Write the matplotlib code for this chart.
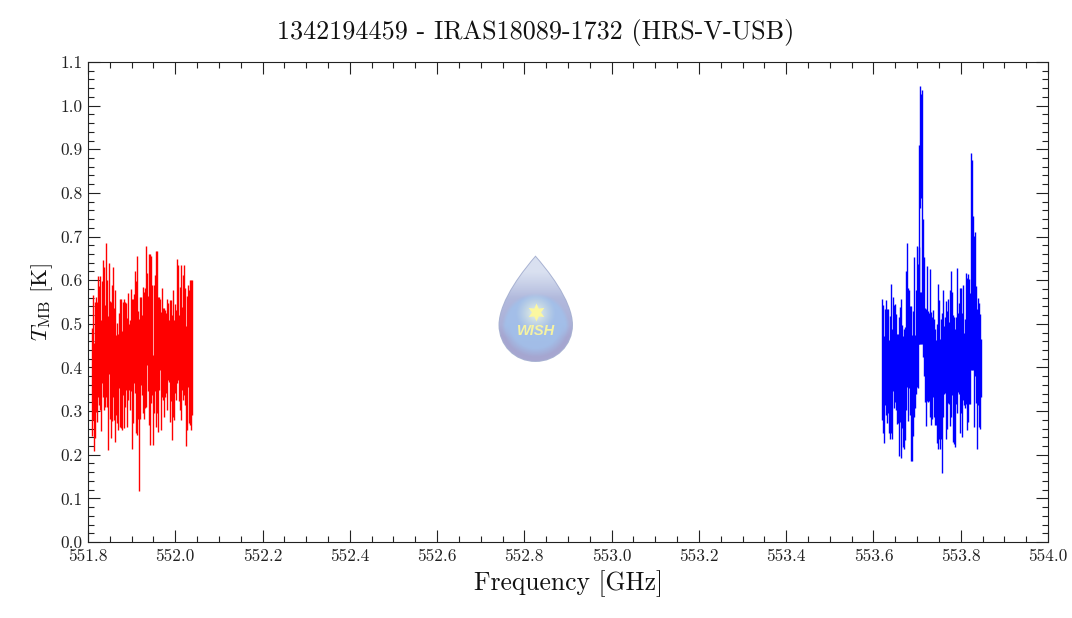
import numpy as np
import matplotlib
matplotlib.use("Agg")
import matplotlib.pyplot as plt
from matplotlib.path import Path
from matplotlib.patches import PathPatch
from matplotlib.ticker import MultipleLocator, FormatStrFormatter

# min / max of the spectrum in each plotted column
RED_START = 551.8103
BLUE_START = 553.6185
CHANNEL = 0.00229

red_hi = [
    .490, .566, .455, .549, .561, .551, .610, .587, .610, .509,
    .597, .646, .631, .543, .686, .600, .518, .639, .552, .549,
    .589, .631, .536, .578, .474, .501, .477, .524, .556, .556,
    .484, .551, .558, .551, .547, .514, .571, .500, .509, .580,
    .557, .557, .568, .620, .597, .655, .529, .512, .561, .561,
    .520, .585, .574, .581, .678, .616, .564, .660, .660, .655,
    .589, .429, .589, .612, .667, .667, .561, .561, .558, .528,
    .583, .536, .536, .532, .524, .558, .547, .509, .555, .555,
    .520, .578, .509, .545, .532, .648, .635, .520, .585, .635,
    .539, .612, .635, .581, .495, .564, .589, .578, .600, .600,
    .600,
]
red_lo = [
    .243, .280, .209, .238, .299, .274, .333, .314, .303, .255,
    .364, .333, .303, .310, .333, .310, .211, .385, .283, .238,
    .277, .333, .280, .230, .291, .272, .257, .352, .264, .261,
    .257, .337, .261, .310, .348, .264, .325, .348, .303, .345,
    .213, .272, .364, .341, .249, .245, .281, .118, .281, .360,
    .337, .295, .283, .306, .310, .406, .345, .268, .222, .318,
    .337, .222, .295, .345, .264, .295, .251, .348, .394, .257,
    .333, .325, .287, .333, .341, .303, .371, .367, .276, .322,
    .234, .287, .280, .341, .325, .364, .371, .322, .303, .280,
    .348, .325, .337, .314, .219, .257, .356, .272, .268, .257,
    .291,
]
blue_hi = [
    .557, .543, .472, .533, .554, .535, .535, .463, .518, .591,
    .487, .562, .543, .545, .522, .476, .476, .516, .539, .557,
    .497, .473, .487, .493, .620, .685, .583, .577, .540, .540,
    .474, .530, .654, .474, .577, .679, .637, .675, .910, 1.045,
    1.027, 1.036, .740, .654, .537, .535, .633, .530, .524, .626,
    .527, .516, .531, .512, .487, .463, .500, .592, .554, .466,
    .512, .524, .577, .495, .516, .553, .530, .556, .505, .577,
    .620, .573, .520, .516, .487, .516, .627, .524, .547, .583,
    .581, .524, .589, .478, .510, .617, .604, .615, .603, .570,
    .891, .876, .746, .701, .710, .586, .535, .560, .547, .522,
    .466,
]
blue_lo = [
    .279, .250, .227, .314, .291, .272, .295, .249, .237, .249,
    .237, .346, .306, .321, .302, .270, .272, .197, .275, .193,
    .262, .218, .213, .233, .302, .356, .278, .352, .291, .186,
    .186, .243, .287, .306, .340, .356, .354, .453, .453, .766,
    .788, .453, .423, .380, .321, .266, .324, .321, .324, .287,
    .268, .281, .333, .287, .268, .268, .226, .214, .235, .213,
    .237, .159, .287, .340, .342, .237, .260, .319, .317, .266,
    .287, .337, .230, .224, .218, .317, .295, .344, .340, .249,
    .295, .241, .325, .314, .306, .317, .256, .275, .317, .317,
    .394, .394, .394, .264, .380, .319, .213, .314, .264, .260,
    .333,
]
# the two core columns are broken, this is their lower piece
core_columns = [39, 40]
core_hi = [.574, .574]
core_lo = [.453, .453]

x_ticks = [551.8, 552.0, 552.2, 552.4, 552.6, 552.8, 553.0, 553.2, 553.4, 553.6, 553.8, 554.0]
y_ticks = [0.0, 0.1, 0.2, 0.3, 0.4, 0.5, 0.6, 0.7, 0.8, 0.9, 1.0, 1.1]

W, H = 1072, 618
plt.rcParams['font.family'] = ['cmr10', 'STIXGeneral', 'DejaVu Serif']
plt.rcParams['mathtext.fontset'] = 'cm'
plt.rcParams['axes.unicode_minus'] = False
plt.rcParams['axes.formatter.use_mathtext'] = True


def draw_wish_drop(fig):
    # the watermark, laid out in pixels of the full figure
    left, right, top, bottom = 495, 577, 252, 366
    wax = fig.add_axes([left / W, 1 - bottom / H, (right - left) / W, (bottom - top) / H], zorder=3)
    wax.set_xlim(left, right)
    wax.set_ylim(bottom, top)
    wax.axis('off')

    xx, yy = np.meshgrid(np.arange(left, right, 0.5), np.arange(top, bottom, 0.5))
    t = np.clip((yy - 257) / 104, 0, 1)[..., None]
    img = np.array([186, 198, 228]) * (1 - t) + np.array([164, 166, 210]) * t

    # pale highlight at the top
    highlight = np.clip((298 - yy) / 26, 0, 1)[..., None] * 0.8
    img = img * (1 - highlight) + np.array([226, 232, 244]) * highlight

    # blue disc
    disc = np.clip((34 - np.hypot(xx - 535.5, yy - 327)) / 4, 0, 1)[..., None] * 0.9
    img = img * (1 - disc) + np.array([162, 192, 234]) * disc

    # glow behind the star
    glow = np.clip(1 - np.hypot(xx - 535.5, yy - 313) / 20, 0, 1)[..., None] ** 1.2
    img = img * (1 - glow) + np.array([236, 244, 226]) * glow

    # lavender rim at the bottom
    rim = np.clip((np.hypot(xx - 535.5, yy - 322) - 26) / 9, 0, 1)[..., None]
    rim = rim * np.clip((yy - 325) / 12, 0, 1)[..., None]
    img = img * (1 - rim) + np.array([166, 166, 208]) * rim

    drop = Path(
        [(535.5, 257), (545, 268), (572, 300), (572, 325),
         (572, 345), (556, 361), (535.5, 361),
         (515, 361), (499.5, 345), (499.5, 325),
         (499.5, 300), (526, 268), (535.5, 257), (535.5, 257)],
        [Path.MOVETO, Path.CURVE4, Path.CURVE4, Path.CURVE4,
         Path.CURVE4, Path.CURVE4, Path.CURVE4,
         Path.CURVE4, Path.CURVE4, Path.CURVE4,
         Path.CURVE4, Path.CURVE4, Path.CURVE4, Path.CLOSEPOLY])
    patch = PathPatch(drop, facecolor='none', edgecolor='#a8b2d2', lw=1.4)
    wax.add_patch(patch)
    im = wax.imshow(img.astype(np.uint8), extent=(left, right, bottom, top), aspect='auto',
                    interpolation='bilinear', zorder=1)
    im.set_clip_path(patch)
    wax.set_xlim(left, right)
    wax.set_ylim(bottom, top)

    # star and label
    wax.plot([535.5], [312], marker=(6, 1, 0), ms=13, color='#fbf7a0', mec='none', zorder=2)
    wax.text(536.5, 331, 'WISH', family='Liberation Sans', style='italic', weight='bold', fontsize=10.5,
             color='#f6f3a2', ha='center', va='center', zorder=2)


def main():
    fig = plt.figure(figsize=(W / 100, H / 100), dpi=100, facecolor='white')
    ax = fig.add_axes([88 / W, 1 - 542 / H, 960 / W, 480 / H])

    red_freq = RED_START + CHANNEL * np.arange(len(red_hi))
    blue_freq = BLUE_START + CHANNEL * np.arange(len(blue_hi))

    ax.vlines(red_freq, red_lo, red_hi, color='#ff0000', lw=1.0)
    ax.vlines(blue_freq, blue_lo, blue_hi, color='#0000ff', lw=1.0)
    ax.vlines(blue_freq[core_columns], core_lo, core_hi, color='#0000ff', lw=1.0)

    ax.set_xlim(551.8, 554.0)
    ax.set_ylim(0.0, 1.1)
    ax.set_xticks(x_ticks)
    ax.set_yticks(y_ticks)
    ax.xaxis.set_minor_locator(MultipleLocator(0.05))
    ax.yaxis.set_minor_locator(MultipleLocator(0.02))
    ax.xaxis.set_major_formatter(FormatStrFormatter('%.1f'))
    ax.yaxis.set_major_formatter(FormatStrFormatter('%.1f'))
    ax.tick_params(which='major', direction='in', top=True, right=True, length=8.6, width=0.8,
                   color='#222222', labelsize=12.5, labelcolor='#222222')
    ax.tick_params(which='minor', direction='in', top=True, right=True, length=4.6, width=0.8,
                   color='#222222')
    ax.tick_params(axis='x', which='major', pad=5)
    ax.tick_params(axis='y', which='major', pad=4)
    for spine in ax.spines.values():
        spine.set_linewidth(0.8)
        spine.set_color('#222222')

    ax.set_xlabel('Frequency [GHz]', fontsize=18.4, color='#111111', labelpad=4)
    ax.set_ylabel(r'$T_{\rm MB}$ [K]', fontsize=16.5, color='#111111', labelpad=4)
    fig.text(536 / W, 1 - 33 / H, '1342194459 - IRAS18089-1732 (HRS-V-USB)', fontsize=18.8,
             color='#111111', ha='center', va='center')

    draw_wish_drop(fig)
    fig.savefig('out.png', dpi=100)


if __name__ == "__main__":
    main()
